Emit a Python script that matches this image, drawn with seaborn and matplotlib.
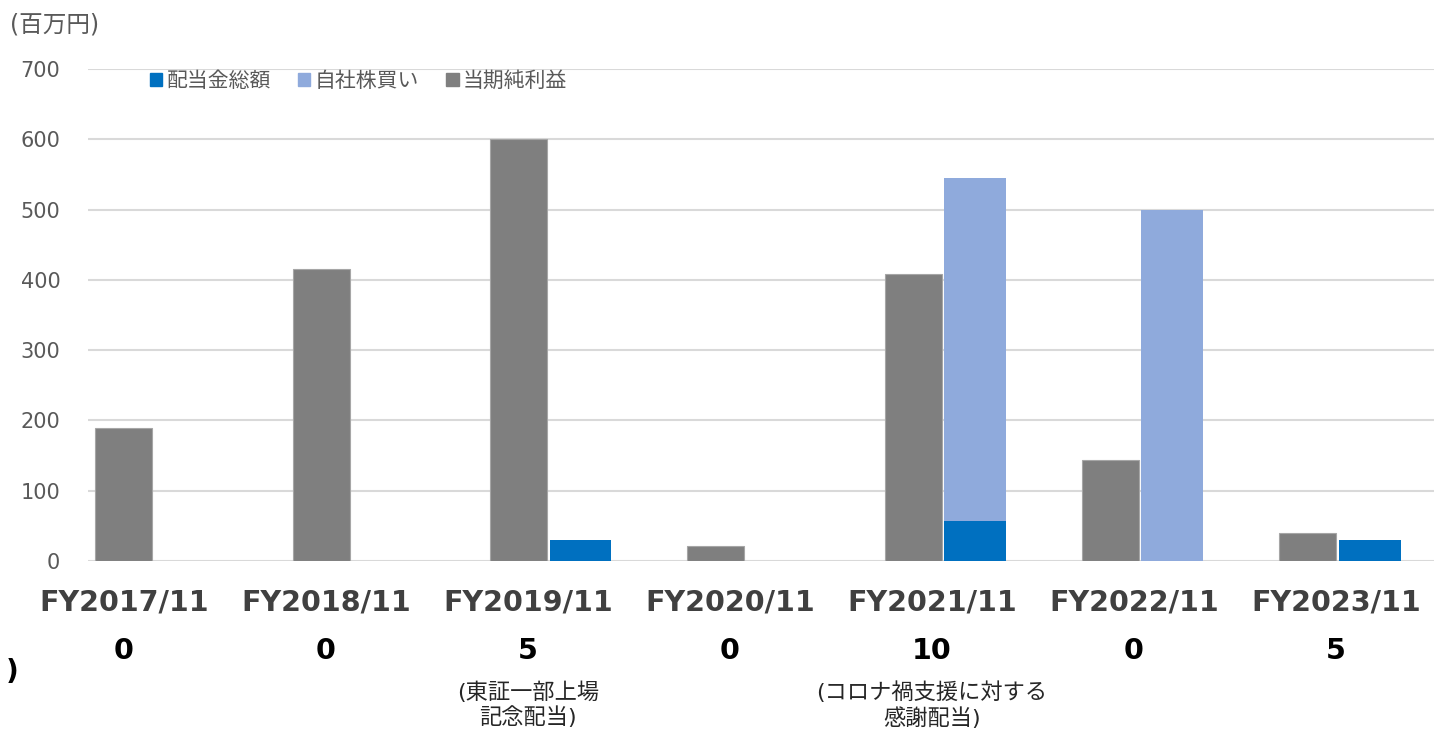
import numpy as np
import pandas as pd
import matplotlib
matplotlib.use("Agg")
import matplotlib.pyplot as plt
from matplotlib.patches import Patch
import seaborn as sns

# ------------------------- DATI -------------------------
years = ["FY2017/11", "FY2018/11", "FY2019/11", "FY2020/11",
         "FY2021/11", "FY2022/11", "FY2023/11"]
net_income = [189, 415, 600, 21, 408, 144, 40]      # 当期純利益
dividends = [0, 0, 30, 0, 57, 0, 30]                 # 配当金総額
buybacks = [0, 0, 0, 0, 488, 500, 0]                 # 自社株買い
dps_labels = ["0", "0", "5", "0", "10", "0", "5"]
notes = ["", "", "(東証一部上場\n記念配当)", "", "(コロナ禍支援に対する\n感謝配当)",
         "", ""]
yticks = [0, 100, 200, 300, 400, 500, 600, 700]

c_div = "#0070C0"
c_buy = "#8FAADC"
c_net = "#7F7F7F"
c_txt = "#595959"

# ------------------------- GRAFICO -------------------------
sns.set_theme(style="white")
plt.rcParams["font.family"] = ["DejaVu Sans", "Noto Sans CJK JP"]

pos = np.arange(len(years))
df_net = pd.DataFrame({"x": pos.astype(float), "y": net_income})
df_stack = pd.DataFrame({"x": pos + 0.314,
                         "total": np.array(dividends) + np.array(buybacks),
                         "div": dividends})

fig = plt.figure(figsize=(14.34, 7.33), dpi=100)
ax = fig.add_axes([0.0614, 0.2347, 0.9386, 0.6712])

for yv in yticks:
    ax.axhline(yv, color="#D9D9D9", lw=1.5, zorder=0)

sns.barplot(data=df_net, x="x", y="y", color=c_net, native_scale=True,
            width=0.289, errorbar=None, saturation=1, ax=ax, zorder=2,
            edgecolor="#A6A6A6", linewidth=0.8)
sns.barplot(data=df_stack, x="x", y="total", color=c_buy, native_scale=True,
            width=0.314, errorbar=None, saturation=1, ax=ax, zorder=2,
            linewidth=0)
sns.barplot(data=df_stack, x="x", y="div", color=c_div, native_scale=True,
            width=0.314, errorbar=None, saturation=1, ax=ax, zorder=3,
            linewidth=0)

ax.set_xlim(-0.182, 6.64)
ax.set_ylim(0, 700)
ax.set_yticks(yticks)
ax.set_yticklabels([str(v) for v in yticks], fontsize=15, color=c_txt)
ax.tick_params(axis="y", length=0, pad=20)
ax.set_xticks([])
ax.set_xlabel("")
ax.set_ylabel("")
for s in ax.spines.values():
    s.set_visible(False)

handles = [Patch(color=c_div), Patch(color=c_buy), Patch(color=c_net)]
ax.legend(handles, ["配当金総額", "自社株買い", "当期純利益"], ncol=3,
          loc="upper left", bbox_to_anchor=(0.032, 1.035), frameon=False,
          fontsize=15, handlelength=0.6, handleheight=0.6, handletextpad=0.2,
          columnspacing=1.3, labelcolor=c_txt)

# etichette sotto il grafico
for i in range(len(years)):
    lx = (124 + 202 * i) / 1434
    fig.text(lx, 0.1787, years[i], ha="center", va="center", fontsize=20.5,
             fontweight="bold", color="#404040")
    fig.text(lx, 0.1119, dps_labels[i], ha="center", va="center", fontsize=20.5,
             fontweight="bold", color="black")
    if notes[i]:
        fig.text(lx, 0.0382, notes[i], ha="center", va="center", fontsize=16,
                 color="#262626", linespacing=1.2)

fig.text(0.007, 0.966, "(百万円)", ha="left", va="center", fontsize=17, color=c_txt)
fig.text(0.004, 0.083, ")", ha="left", va="center", fontsize=20,
         fontweight="bold", color="black")

fig.savefig("out.png", dpi=100)
